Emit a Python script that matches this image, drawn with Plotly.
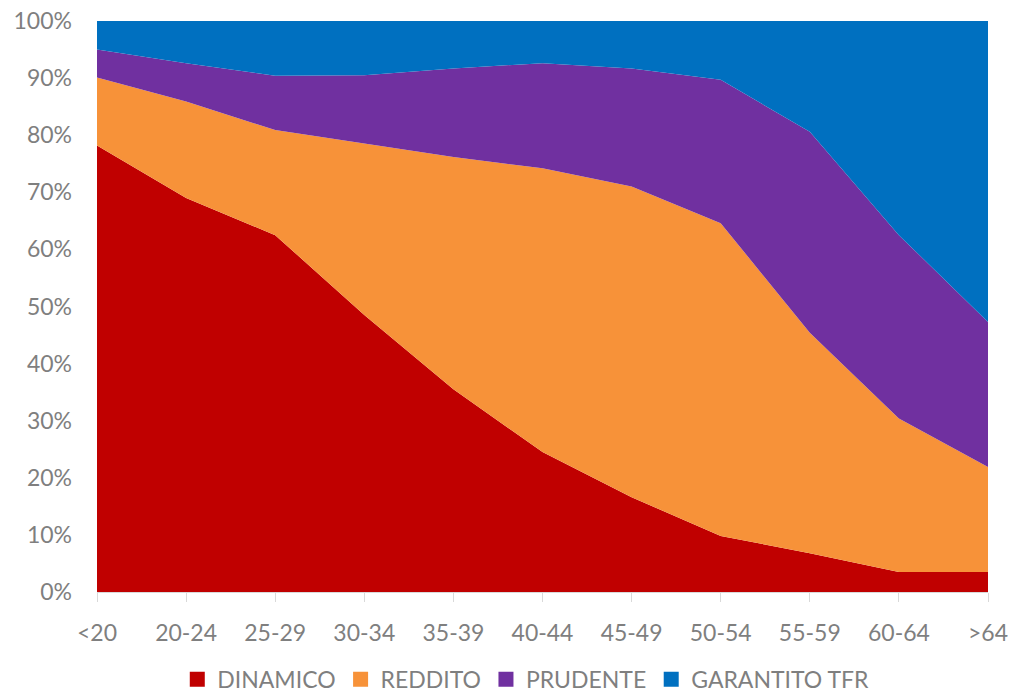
import plotly.graph_objects as go

categories = ["<20", "20-24", "25-29", "30-34", "35-39", "40-44", "45-49", "50-54", "55-59", "60-64", ">64"]
dinamico = [78.2, 69.0, 62.5, 48.5, 35.5, 24.5, 16.6, 9.8, 6.8, 3.5, 3.5]
reddito = [11.9, 16.9, 18.4, 30.1, 40.7, 49.7, 54.4, 54.8, 38.6, 26.9, 18.4]
prudente = [4.9, 6.7, 9.5, 11.9, 15.5, 18.4, 20.7, 25.1, 35.2, 32.1, 25.4]
garantito = [5.0, 7.4, 9.6, 9.5, 8.3, 7.4, 8.3, 10.3, 19.4, 37.5, 52.7]
yticks = [0, 10, 20, 30, 40, 50, 60, 70, 80, 90, 100]

series = [
    ("DINAMICO", dinamico, "#C00000"),
    ("REDDITO", reddito, "#F79239"),
    ("PRUDENTE", prudente, "#7030A0"),
    ("GARANTITO TFR", garantito, "#0070C0"),
]

FONT = "Lato"
GRAY = "#7f7f7f"

fig = go.Figure()
for name, vals, col in series:
    fig.add_trace(go.Scatter(
        x=categories, y=vals, name=name, stackgroup="one", mode="lines",
        line=dict(width=0, color=col), fillcolor=col, showlegend=False,
        hoverinfo="skip",
    ))
for name, vals, col in series:
    fig.add_trace(go.Scatter(
        x=[None], y=[None], name=name, mode="markers",
        marker=dict(symbol="square", size=15, color=col), showlegend=True,
    ))

fig.update_layout(
    width=1035, height=696,
    margin=dict(l=97, r=47, t=21, b=104, autoexpand=False),
    paper_bgcolor="white", plot_bgcolor="white",
    font=dict(family=FONT, size=23, color=GRAY),
    showlegend=True,
    legend=dict(
        orientation="h", xref="container", yref="container",
        x=0.508, xanchor="center", y=0.024, yanchor="middle",
        font=dict(family=FONT, size=23, color=GRAY),
        itemwidth=30, tracegroupgap=0, traceorder="normal",
    ),
    xaxis=dict(
        type="category", categoryorder="array", categoryarray=categories,
        range=[0, 10], showgrid=False, zeroline=False, automargin=False,
        showline=True, linecolor="#d9d9d9", linewidth=1,
        ticks="outside", ticklen=9, tickcolor="#d9d9d9", tickwidth=1,
        ticklabelstandoff=11,
        tickfont=dict(family=FONT, size=23, color=GRAY),
    ),
    yaxis=dict(
        range=[0, 100], tickvals=yticks, ticktext=[f"{v}%" for v in yticks],
        showgrid=False, zeroline=False, showline=False, ticks="",
        automargin=False, ticklabelstandoff=24,
        tickfont=dict(family=FONT, size=23, color=GRAY),
    ),
)

fig.write_html("out.html")
